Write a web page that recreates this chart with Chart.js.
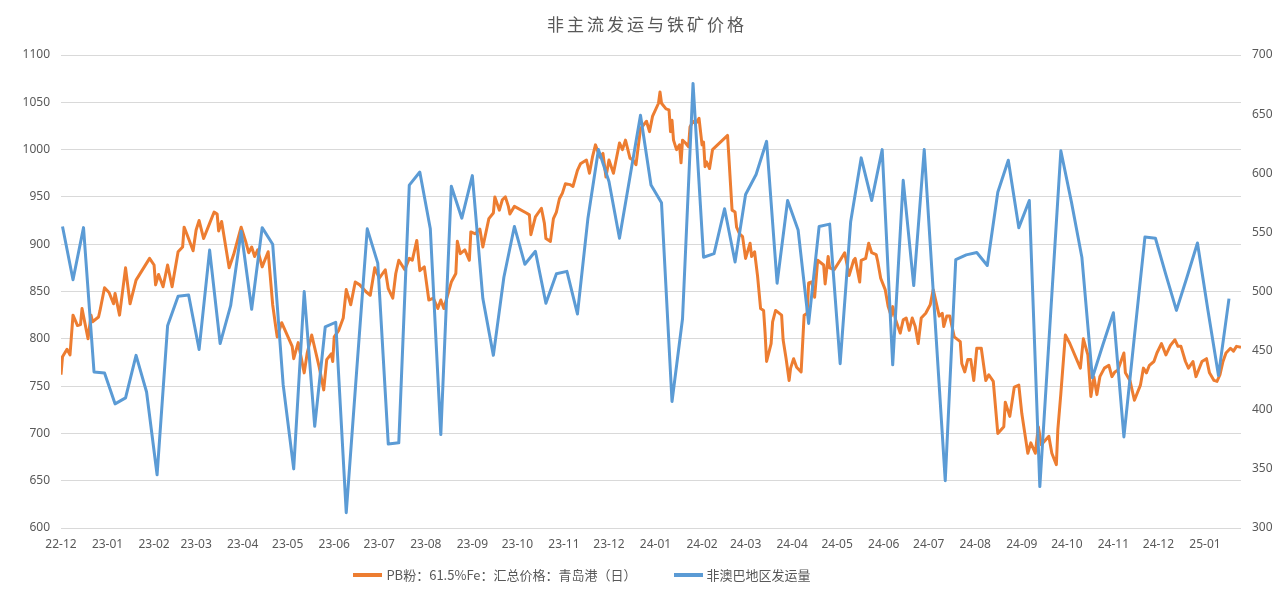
<!DOCTYPE html>
<html lang="zh">
<head>
<meta charset="UTF-8">
<title>非主流发运与铁矿价格</title>
<script src="https://cdn.jsdelivr.net/npm/chart.js"></script>
<style>
    body {
        margin: 0;
        background: #fff;
        font-family: "Noto Sans CJK SC", "Noto Sans", sans-serif;
    }
    .wrap {
        position: relative;
        width: 1280px;
        height: 596px;
    }
    .title {
        position: absolute;
        top: 12px;
        left: 0;
        width: 1294px;
        text-align: center;
        font-size: 17px;
        line-height: 24px;
        letter-spacing: 3px;
        color: #595959;
    }
    .legend {
        position: absolute;
        top: 565px;
        left: 0;
        width: 1164px;
        height: 20px;
        display: flex;
        justify-content: center;
        gap: 37px;
        font-size: 13px;
        line-height: 20px;
        color: #595959;
    }
    .legend span {
        display: flex;
        align-items: center;
    }
    .legend i {
        display: inline-block;
        width: 29px;
        height: 4px;
        margin-right: 4px;
    }
</style>
</head>
<body>
<div class="wrap">
    <canvas id="chart"></canvas>
    <div class="title">非主流发运与铁矿价格</div>
    <div class="legend" id="legend"></div>
</div>
<script>
    const monthLabels = ['22-12', '23-01', '23-02', '23-03', '23-04', '23-05', '23-06', '23-07', '23-08',
        '23-09', '23-10', '23-11', '23-12', '24-01', '24-02', '24-03', '24-04', '24-05', '24-06', '24-07',
        '24-08', '24-09', '24-10', '24-11', '24-12', '25-01'];
    const axisEnd = '2025-01-25';

    const seriesNames = ['PB粉：61.5%Fe：汇总价格：青岛港（日）', '非澳巴地区发运量'];
    const seriesColors = ['#ED7D31', '#5B9BD5'];

    // PB粉价格（日），左轴
    const priceDates = [
        '2022-12-01', '2022-12-02', '2022-12-05', '2022-12-07', '2022-12-09', '2022-12-12', '2022-12-14', '2022-12-15',
        '2022-12-19', '2022-12-21', '2022-12-22', '2022-12-26', '2022-12-27', '2022-12-30', '2023-01-02', '2023-01-05',
        '2023-01-06', '2023-01-09', '2023-01-13', '2023-01-16', '2023-01-20', '2023-01-29', '2023-02-01', '2023-02-02',
        '2023-02-04', '2023-02-07', '2023-02-10', '2023-02-13', '2023-02-17', '2023-02-20', '2023-02-21', '2023-02-23',
        '2023-02-27', '2023-03-01', '2023-03-03', '2023-03-06', '2023-03-10', '2023-03-13', '2023-03-15', '2023-03-16',
        '2023-03-18', '2023-03-23', '2023-03-26', '2023-03-31', '2023-04-03', '2023-04-05', '2023-04-07', '2023-04-09',
        '2023-04-11', '2023-04-14', '2023-04-18', '2023-04-21', '2023-04-23', '2023-04-24', '2023-04-27', '2023-05-04',
        '2023-05-05', '2023-05-08', '2023-05-12', '2023-05-14', '2023-05-17', '2023-05-22', '2023-05-25', '2023-05-27',
        '2023-05-30', '2023-05-31', '2023-06-01', '2023-06-04', '2023-06-07', '2023-06-09', '2023-06-12', '2023-06-15',
        '2023-06-18', '2023-06-22', '2023-06-25', '2023-06-28', '2023-07-01', '2023-07-05', '2023-07-07', '2023-07-10',
        '2023-07-12', '2023-07-14', '2023-07-18', '2023-07-21', '2023-07-23', '2023-07-26', '2023-07-28', '2023-07-31',
        '2023-08-03', '2023-08-06', '2023-08-09', '2023-08-11', '2023-08-13', '2023-08-18', '2023-08-21', '2023-08-22',
        '2023-08-24', '2023-08-27', '2023-08-30', '2023-08-31', '2023-09-03', '2023-09-06', '2023-09-08', '2023-09-12',
        '2023-09-15', '2023-09-16', '2023-09-19', '2023-09-21', '2023-09-23', '2023-09-25', '2023-09-26', '2023-09-29',
        '2023-10-07', '2023-10-09', '2023-10-10', '2023-10-13', '2023-10-17', '2023-10-19', '2023-10-20', '2023-10-23',
        '2023-10-25', '2023-10-27', '2023-10-29', '2023-10-31', '2023-11-02', '2023-11-05', '2023-11-07', '2023-11-10',
        '2023-11-12', '2023-11-16', '2023-11-18', '2023-11-20', '2023-11-22', '2023-11-25', '2023-11-27', '2023-11-29',
        '2023-12-01', '2023-12-04', '2023-12-08', '2023-12-10', '2023-12-12', '2023-12-15', '2023-12-17', '2023-12-19',
        '2023-12-22', '2023-12-26', '2023-12-28', '2023-12-30', '2024-01-03', '2024-01-04', '2024-01-05', '2024-01-08',
        '2024-01-10', '2024-01-11', '2024-01-12', '2024-01-13', '2024-01-15', '2024-01-17', '2024-01-18', '2024-01-19',
        '2024-01-21', '2024-01-23', '2024-01-24', '2024-01-26', '2024-01-28', '2024-01-30', '2024-02-01', '2024-02-02',
        '2024-02-03', '2024-02-04', '2024-02-06', '2024-02-08', '2024-02-18', '2024-02-21', '2024-02-23', '2024-02-24',
        '2024-02-26', '2024-02-28', '2024-03-01', '2024-03-04', '2024-03-05', '2024-03-07', '2024-03-09', '2024-03-11',
        '2024-03-13', '2024-03-14', '2024-03-15', '2024-03-18', '2024-03-19', '2024-03-21', '2024-03-25', '2024-03-26',
        '2024-03-28', '2024-03-30', '2024-03-31', '2024-04-02', '2024-04-04', '2024-04-07', '2024-04-09', '2024-04-11',
        '2024-04-12', '2024-04-14', '2024-04-16', '2024-04-18', '2024-04-22', '2024-04-23', '2024-04-25', '2024-04-26',
        '2024-04-29', '2024-05-03', '2024-05-06', '2024-05-09', '2024-05-12', '2024-05-13', '2024-05-16', '2024-05-17',
        '2024-05-20', '2024-05-22', '2024-05-24', '2024-05-27', '2024-05-28', '2024-05-29', '2024-05-30', '2024-06-02',
        '2024-06-04', '2024-06-06', '2024-06-07', '2024-06-09', '2024-06-12', '2024-06-14', '2024-06-16', '2024-06-18',
        '2024-06-20', '2024-06-22', '2024-06-24', '2024-06-26', '2024-06-29', '2024-07-02', '2024-07-04', '2024-07-06',
        '2024-07-08', '2024-07-10', '2024-07-11', '2024-07-13', '2024-07-15', '2024-07-18', '2024-07-22', '2024-07-23',
        '2024-07-25', '2024-07-27', '2024-07-29', '2024-07-31', '2024-08-02', '2024-08-05', '2024-08-08', '2024-08-10',
        '2024-08-13', '2024-08-16', '2024-08-20', '2024-08-21', '2024-08-24', '2024-08-27', '2024-08-30', '2024-09-01',
        '2024-09-03', '2024-09-05', '2024-09-07', '2024-09-10', '2024-09-12', '2024-09-14', '2024-09-19', '2024-09-21',
        '2024-09-24', '2024-09-25', '2024-09-27', '2024-09-30', '2024-10-03', '2024-10-10', '2024-10-12', '2024-10-15',
        '2024-10-17', '2024-10-19', '2024-10-21', '2024-10-23', '2024-10-26', '2024-10-29', '2024-10-31', '2024-11-02',
        '2024-11-04', '2024-11-06', '2024-11-08', '2024-11-09', '2024-11-12', '2024-11-15', '2024-11-19', '2024-11-21',
        '2024-11-23', '2024-11-25', '2024-11-28', '2024-11-30', '2024-12-03', '2024-12-06', '2024-12-09', '2024-12-12',
        '2024-12-14', '2024-12-16', '2024-12-19', '2024-12-21', '2024-12-24', '2024-12-26', '2024-12-30', '2025-01-02',
        '2025-01-04', '2025-01-07', '2025-01-09', '2025-01-11', '2025-01-13', '2025-01-15', '2025-01-18', '2025-01-20',
        '2025-01-22', '2025-01-25'
    ];
    const priceValues = [
        762, 781, 789, 783, 825, 814, 815, 832, 800, 825, 818, 823, 830, 854, 849, 837,
        848, 825, 875, 837, 862, 885, 878, 857, 868, 855, 878, 855, 892, 897, 918, 910,
        893, 915, 925, 906, 922, 934, 932, 914, 924, 875, 889, 918, 903, 891, 897, 887,
        894, 876, 892, 836, 813, 802, 817, 792, 779, 796, 764, 785, 804, 770, 746, 778,
        784, 776, 802, 809, 822, 852, 836, 860, 857, 850, 846, 875, 864, 873, 853, 843,
        869, 883, 873, 885, 883, 904, 872, 876, 841, 843, 832, 841, 832, 860, 869, 903,
        890, 894, 883, 913, 911, 916, 897, 927, 933, 950, 936, 947, 950, 940, 932, 940,
        933, 931, 910, 929, 938, 922, 906, 903, 927, 934, 948, 954, 964, 963, 961, 978,
        985, 989, 975, 992, 1005, 992, 996, 971, 989, 975, 1007, 1000, 1010, 991, 989, 984,
        1022, 1030, 1019, 1035, 1049, 1061, 1049, 1043, 1042, 1019, 1031, 1010, 1000, 1005, 986, 1010,
        1007, 1003, 1024, 1030, 1028, 1033, 1005, 1008, 982, 987, 980, 1000, 1015, 936, 934, 918,
        911, 908, 885, 901, 887, 892, 866, 832, 830, 806, 776, 795, 818, 830, 825, 799,
        779, 756, 769, 779, 770, 765, 825, 827, 859, 860, 844, 883, 878, 858, 887, 875,
        873, 883, 891, 867, 883, 885, 860, 883, 885, 901, 891, 889, 882, 873, 864, 852,
        834, 824, 834, 820, 806, 820, 822, 809, 822, 813, 795, 822, 827, 836, 852, 838,
        824, 827, 813, 824, 824, 802, 797, 774, 765, 778, 778, 756, 790, 790, 756, 762,
        755, 700, 707, 733, 718, 749, 751, 721, 700, 679, 690, 679, 707, 688, 697, 679,
        667, 704, 742, 804, 795, 769, 800, 783, 739, 760, 741, 760, 769, 772, 760, 765,
        767, 776, 785, 764, 756, 735, 751, 769, 764, 772, 776, 785, 795, 783, 793, 799,
        792, 792, 776, 769, 776, 760, 776, 779, 764, 756, 755, 762, 776, 785, 790, 787,
        792, 791
    ];

    // 非澳巴地区发运量（周），右轴，首周日期
    const shipStart = '2022-12-02';
    const shipValues = [
        555, 510, 554, 432, 431, 405, 410, 446, 415, 345,
        471, 496, 497, 451, 535, 456, 488, 551, 485, 554,
        540, 421, 350, 500, 386, 470, 474, 313, 434, 553,
        524, 371, 372, 590, 601, 553, 379, 589, 562, 598,
        494, 446, 512, 555, 523, 534, 490, 515, 517, 481,
        562, 620, 593, 545, 597, 649, 590, 575, 407, 477,
        676, 529, 532, 570, 525, 582, 599, 627, 507, 577,
        552, 473, 555, 557, 439, 559, 613, 577, 620, 438,
        594, 505, 620, 480, 340, 527, 531, 533, 522, 584,
        611, 554, 577, 335, 477, 619, 576, 529, 427, 455,
        482, 377, 462, 546, 545, 514, 484, 512, 541, 484,
        429, 494
    ];

    function dayIndex(s) {
        const [y, m, d] = s.split('-').map(Number);
        return (Date.UTC(y, m - 1, d) - Date.UTC(2022, 11, 1)) / 86400000;
    }

    const monthStarts = monthLabels.map(l => dayIndex('20' + l + '-01'));
    const priceData = priceDates.map((d, i) => ({ x: dayIndex(d), y: priceValues[i] }));
    const shipData = shipValues.map((v, i) => ({ x: dayIndex(shipStart) + 7 * i, y: v }));

    const tickFont = { family: '"Noto Sans", "Noto Sans CJK SC", sans-serif', size: 12 };

    new Chart(document.getElementById('chart'), {
        type: 'line',
        data: {
            datasets: [{
                label: seriesNames[0],
                data: priceData,
                yAxisID: 'y',
                borderColor: seriesColors[0],
                backgroundColor: seriesColors[0],
                borderWidth: 3,
                pointRadius: 0,
                borderJoinStyle: 'round',
                order: 1
            }, {
                label: seriesNames[1],
                data: shipData,
                yAxisID: 'y1',
                borderColor: seriesColors[1],
                backgroundColor: seriesColors[1],
                borderWidth: 3,
                pointRadius: 0,
                borderJoinStyle: 'round',
                order: 0
            }]
        },
        options: {
            responsive: true,
            maintainAspectRatio: false,
            animation: false,
            layout: { padding: { top: 55, bottom: 44, left: 0, right: 0 } },
            plugins: {
                legend: { display: false },
                tooltip: { enabled: false }
            },
            scales: {
                x: {
                    type: 'linear',
                    min: 0,
                    max: dayIndex(axisEnd),
                    grid: { display: false, drawTicks: false },
                    border: { display: false },
                    afterBuildTicks: s => { s.ticks = monthStarts.map(v => ({ value: v })); },
                    afterFit: s => { s.height = 24; },
                    ticks: {
                        autoSkip: false,
                        maxRotation: 0,
                        padding: 9,
                        color: '#595959',
                        font: tickFont,
                        callback: v => monthLabels[monthStarts.indexOf(v)]
                    }
                },
                y: {
                    position: 'left',
                    min: 600,
                    max: 1100,
                    grid: { color: '#D9D9D9', lineWidth: 1, drawTicks: false },
                    border: { display: false },
                    afterFit: s => { s.width = 61; },
                    ticks: { stepSize: 50, padding: 11, color: '#595959', font: tickFont, callback: v => String(v) }
                },
                y1: {
                    position: 'right',
                    min: 300,
                    max: 700,
                    grid: { display: false, drawTicks: false },
                    border: { display: false },
                    afterFit: s => { s.width = 39; },
                    ticks: { stepSize: 50, padding: 11, color: '#595959', font: tickFont, callback: v => String(v) }
                }
            }
        }
    });

    const legend = document.getElementById('legend');
    seriesNames.forEach((name, i) => {
        const item = document.createElement('span');
        const mark = document.createElement('i');
        mark.style.background = seriesColors[i];
        item.appendChild(mark);
        item.appendChild(document.createTextNode(name));
        legend.appendChild(item);
    });
</script>
</body>
</html>
